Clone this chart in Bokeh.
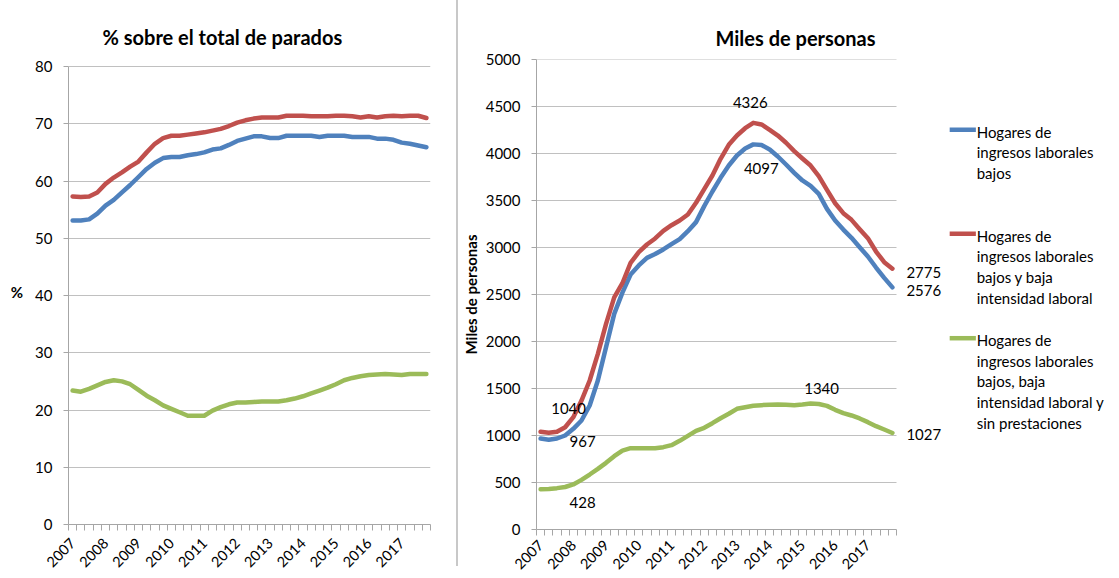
import numpy as np
from bokeh.plotting import figure
from bokeh.models import FixedTicker, Div, ColumnDataSource
from bokeh.layouts import row
from bokeh.embed import file_html
from bokeh.resources import INLINE
from bokeh.core.properties import value

# ---------------- data ----------------
years = [str(y) for y in range(2007, 2018)]
quarters = [f"{y}T{q}" for y in years for q in range(1, 5)]  # 44 quarters

series_names = [
    "Hogares de ingresos laborales bajos",
    "Hogares de ingresos laborales bajos y baja intensidad laboral",
    "Hogares de ingresos laborales bajos,  baja intensidad laboral y sin prestaciones",
]
legend_lines = [
    ["Hogares de", "ingresos laborales", "bajos"],
    ["Hogares de", "ingresos laborales", "bajos y baja", "intensidad laboral"],
    ["Hogares de", "ingresos laborales", "bajos,  baja", "intensidad laboral y", "sin prestaciones"],
]

# % sobre el total de parados
pct_bajos = [53.1, 53.1, 53.3, 54.3, 55.7, 56.7, 58.0, 59.3, 60.7, 62.1, 63.2, 64.0, 64.2, 64.2,
             64.5, 64.7, 65.0, 65.5, 65.7, 66.3, 67.0, 67.4, 67.8, 67.8, 67.5, 67.5, 67.9, 67.9,
             67.9, 67.9, 67.7, 67.9, 67.9, 67.9, 67.7, 67.7, 67.7, 67.4, 67.4, 67.2, 66.7, 66.5,
             66.2, 65.9]
pct_bajos_baja = [57.3, 57.2, 57.3, 58.0, 59.5, 60.6, 61.5, 62.5, 63.4, 65.0, 66.5, 67.5, 67.9,
                  67.9, 68.1, 68.3, 68.5, 68.8, 69.1, 69.6, 70.2, 70.6, 70.9, 71.1, 71.1, 71.1,
                  71.4, 71.4, 71.4, 71.3, 71.3, 71.3, 71.4, 71.4, 71.3, 71.1, 71.3, 71.1, 71.3,
                  71.4, 71.3, 71.4, 71.4, 71.0]
pct_sin_prest = [23.4, 23.2, 23.7, 24.3, 24.9, 25.2, 25.0, 24.5, 23.5, 22.5, 21.7, 20.8, 20.2,
                 19.6, 19.0, 19.0, 19.0, 19.9, 20.5, 21.0, 21.3, 21.3, 21.4, 21.5, 21.5, 21.5,
                 21.7, 22.0, 22.4, 22.9, 23.4, 23.9, 24.5, 25.2, 25.6, 25.9, 26.1, 26.2, 26.3,
                 26.2, 26.1, 26.3, 26.3, 26.3]

# Miles de personas
miles_bajos = [967, 955, 968, 1000, 1071, 1160, 1319, 1585, 1940, 2294, 2520, 2713, 2809, 2890,
               2930, 2979, 3035, 3089, 3174, 3270, 3440, 3596, 3741, 3872, 3979, 4053, 4097,
               4090, 4043, 3968, 3883, 3794, 3713, 3656, 3571, 3411, 3287, 3191, 3103, 3003,
               2904, 2787, 2677, 2576]
miles_bajos_baja = [1040, 1030, 1040, 1088, 1195, 1372, 1585, 1869, 2188, 2470, 2620, 2837, 2950,
                    3032, 3096, 3177, 3237, 3287, 3351, 3476, 3621, 3766, 3943, 4092, 4191, 4269,
                    4326, 4309, 4252, 4191, 4114, 4025, 3947, 3872, 3759, 3614, 3471, 3365, 3294,
                    3195, 3099, 2957, 2844, 2775]
miles_sin_prest = [428, 430, 440, 452, 479, 528, 585, 645, 709, 780, 840, 865, 865, 865, 865, 876,
                   897, 943, 996, 1050, 1082, 1131, 1184, 1231, 1284, 1301, 1316, 1323, 1326,
                   1330, 1326, 1323, 1330, 1340, 1335, 1315, 1273, 1238, 1213, 1181, 1142, 1099,
                   1064, 1027]

pct_ticks = [0, 10, 20, 30, 40, 50, 60, 70, 80]
miles_ticks = [0, 500, 1000, 1500, 2000, 2500, 3000, 3500, 4000, 4500, 5000]

COLORS = ["#4F81BD", "#C0504D", "#9BBB59"]
FONT = "Lato"
GRID = "#c0c0c0"
AXIS = "#a6a6a6"

x = list(range(len(quarters)))
year_ticks = [quarters.index(f"{y}T1") for y in years]
boundaries = [i - 0.5 for i in range(len(quarters) + 1)]

FRAME_TOP = 59  # the two plot frames share their top edge


def style_axes(p, yticks, xstandoff):
    xa = p.xaxis[0]
    xa.ticker = FixedTicker(ticks=year_ticks, minor_ticks=boundaries)
    xa.major_label_overrides = {i: quarters[i][:4] for i in year_ticks}
    xa.major_label_orientation = np.pi / 4
    xa.major_tick_out = 0
    xa.major_tick_in = 0
    xa.minor_tick_out = 6
    xa.minor_tick_in = 0
    xa.minor_tick_line_color = AXIS
    xa.axis_line_color = AXIS
    xa.major_label_text_font = FONT
    xa.major_label_text_font_size = "14.5px"
    xa.major_label_text_color = "#000000"
    xa.major_label_standoff = xstandoff
    ya = p.yaxis[0]
    ya.ticker = FixedTicker(ticks=yticks)
    ya.axis_line_color = AXIS
    ya.major_tick_line_color = AXIS
    ya.major_tick_out = 5
    ya.major_tick_in = 0
    ya.minor_tick_line_color = None
    ya.major_label_text_font = FONT
    ya.major_label_text_font_size = "15px"
    ya.major_label_text_color = "#000000"
    ya.major_label_standoff = 11
    ya.axis_label_text_font = FONT
    ya.axis_label_text_font_style = "bold"
    ya.axis_label_text_font_size = "15px"
    ya.axis_label_text_color = "#000000"
    p.xgrid.visible = False
    p.outline_line_color = None
    p.toolbar.logo = None
    p.title.text_font = FONT
    p.title.text_font_size = "20px"
    p.title.text_font_style = "bold"
    p.title.text_color = "#000000"
    p.title.align = "left"


# ---------------- left chart ----------------
# the left plot area starts 7px lower than the right one: pad the top of the y range
px_per_pct = 458 / (pct_ticks[-1] - pct_ticks[0])
pad_top = 7 / px_per_pct
p1 = figure(frame_width=362, frame_height=465, x_range=(-0.5, len(quarters) - 0.5),
            y_range=(pct_ticks[0], pct_ticks[-1] + pad_top), output_backend="svg",
            toolbar_location=None, min_border_left=68, min_border_right=26,
            min_border_top=FRAME_TOP, min_border_bottom=54,
            title="% sobre el total de parados")
style_axes(p1, pct_ticks, 10)
p1.ygrid.grid_line_color = GRID
p1.yaxis[0].bounds = (pct_ticks[0], pct_ticks[-1])
p1.yaxis[0].axis_label = "%"
p1.yaxis[0].axis_label_orientation = "horizontal"
p1.yaxis[0].axis_label_standoff = 9
p1.title.offset = 34
p1.title.standoff = 21
for vals, c in zip([pct_bajos, pct_bajos_baja, pct_sin_prest], COLORS):
    p1.line(x, vals, line_color=c, line_width=4.5, line_join="round", line_cap="round")

# ---------------- right chart ----------------
cat_w = 360 / len(quarters)
frame_w2 = 583
x_end2 = -0.5 + frame_w2 / cat_w
p2 = figure(frame_width=frame_w2, frame_height=470, x_range=(-0.5, x_end2),
            y_range=(miles_ticks[0], miles_ticks[-1]), output_backend="svg",
            toolbar_location=None, min_border_left=75, min_border_right=0,
            min_border_top=FRAME_TOP, min_border_bottom=49,
            title="Miles de personas")
style_axes(p2, miles_ticks, 7)
p2.xaxis[0].bounds = (-0.5, len(quarters) - 0.5)
p2.ygrid.visible = False
p2.yaxis[0].axis_label = "Miles de personas"
p2.yaxis[0].axis_label_standoff = 3
p2.title.offset = 179
p2.title.standoff = 19
# horizontal gridlines limited to the data area
p2.segment(x0=[-0.5] * (len(miles_ticks) - 1), x1=[len(quarters) - 0.5] * (len(miles_ticks) - 1),
           y0=miles_ticks[1:], y1=miles_ticks[1:], line_color=GRID, line_width=1)

miles = [miles_bajos, miles_bajos_baja, miles_sin_prest]
for vals, c in zip(miles, COLORS):
    p2.line(x, vals, line_color=c, line_width=4.5, line_join="round", line_cap="round")

# data labels: start, peak, end of each series (offsets in screen px)
last = len(quarters) - 1
lab_x, lab_y, lab_t, lab_dx, lab_dy, lab_align = [], [], [], [], [], []
start_off = [(42, 3), (28, -23), (42, 13)]
peak_off = [(8, 24), (-3, -20), (11, -15)]
end_off = [(14, 3), (14, 4), (14, 2)]
for vals, so, po, eo in zip(miles, start_off, peak_off, end_off):
    ip = int(np.argmax(vals))
    for idx, (dx, dy), al in [(0, so, "center"), (ip, po, "center"), (last, eo, "left")]:
        lab_x.append(idx)
        lab_y.append(vals[idx])
        lab_t.append(str(vals[idx]))
        lab_dx.append(dx)
        lab_dy.append(dy)
        lab_align.append(al)
src = ColumnDataSource(dict(x=lab_x, y=lab_y, t=lab_t, dx=lab_dx, dy=lab_dy, al=lab_align))
p2.text(x="x", y="y", text="t", x_offset="dx", y_offset="dy", text_align="al",
        text_baseline="middle", text_font=value(FONT), text_font_size="15px",
        text_color="#000000", source=src)

# legend (manual, multi-line)
leg_line_y = [4252, 3146, 2035]
line_h = 220
for ly, lines, c in zip(leg_line_y, legend_lines, COLORS):
    p2.line([50.0, 53.2], [ly, ly], line_color=c, line_width=4.5)
    ys = [ly - 20 - k * line_h for k in range(len(lines))]
    p2.text(x=[53.3] * len(lines), y=ys, text=lines, text_baseline="middle",
            text_font=value(FONT), text_font_size="15px", text_color="#000000")

divider = Div(width=2, height=566, margin=0, styles={"background-color": "#c8c8c8"})

layout = row(p1, divider, p2)
open("out.html", "w").write(file_html(layout, INLINE))
